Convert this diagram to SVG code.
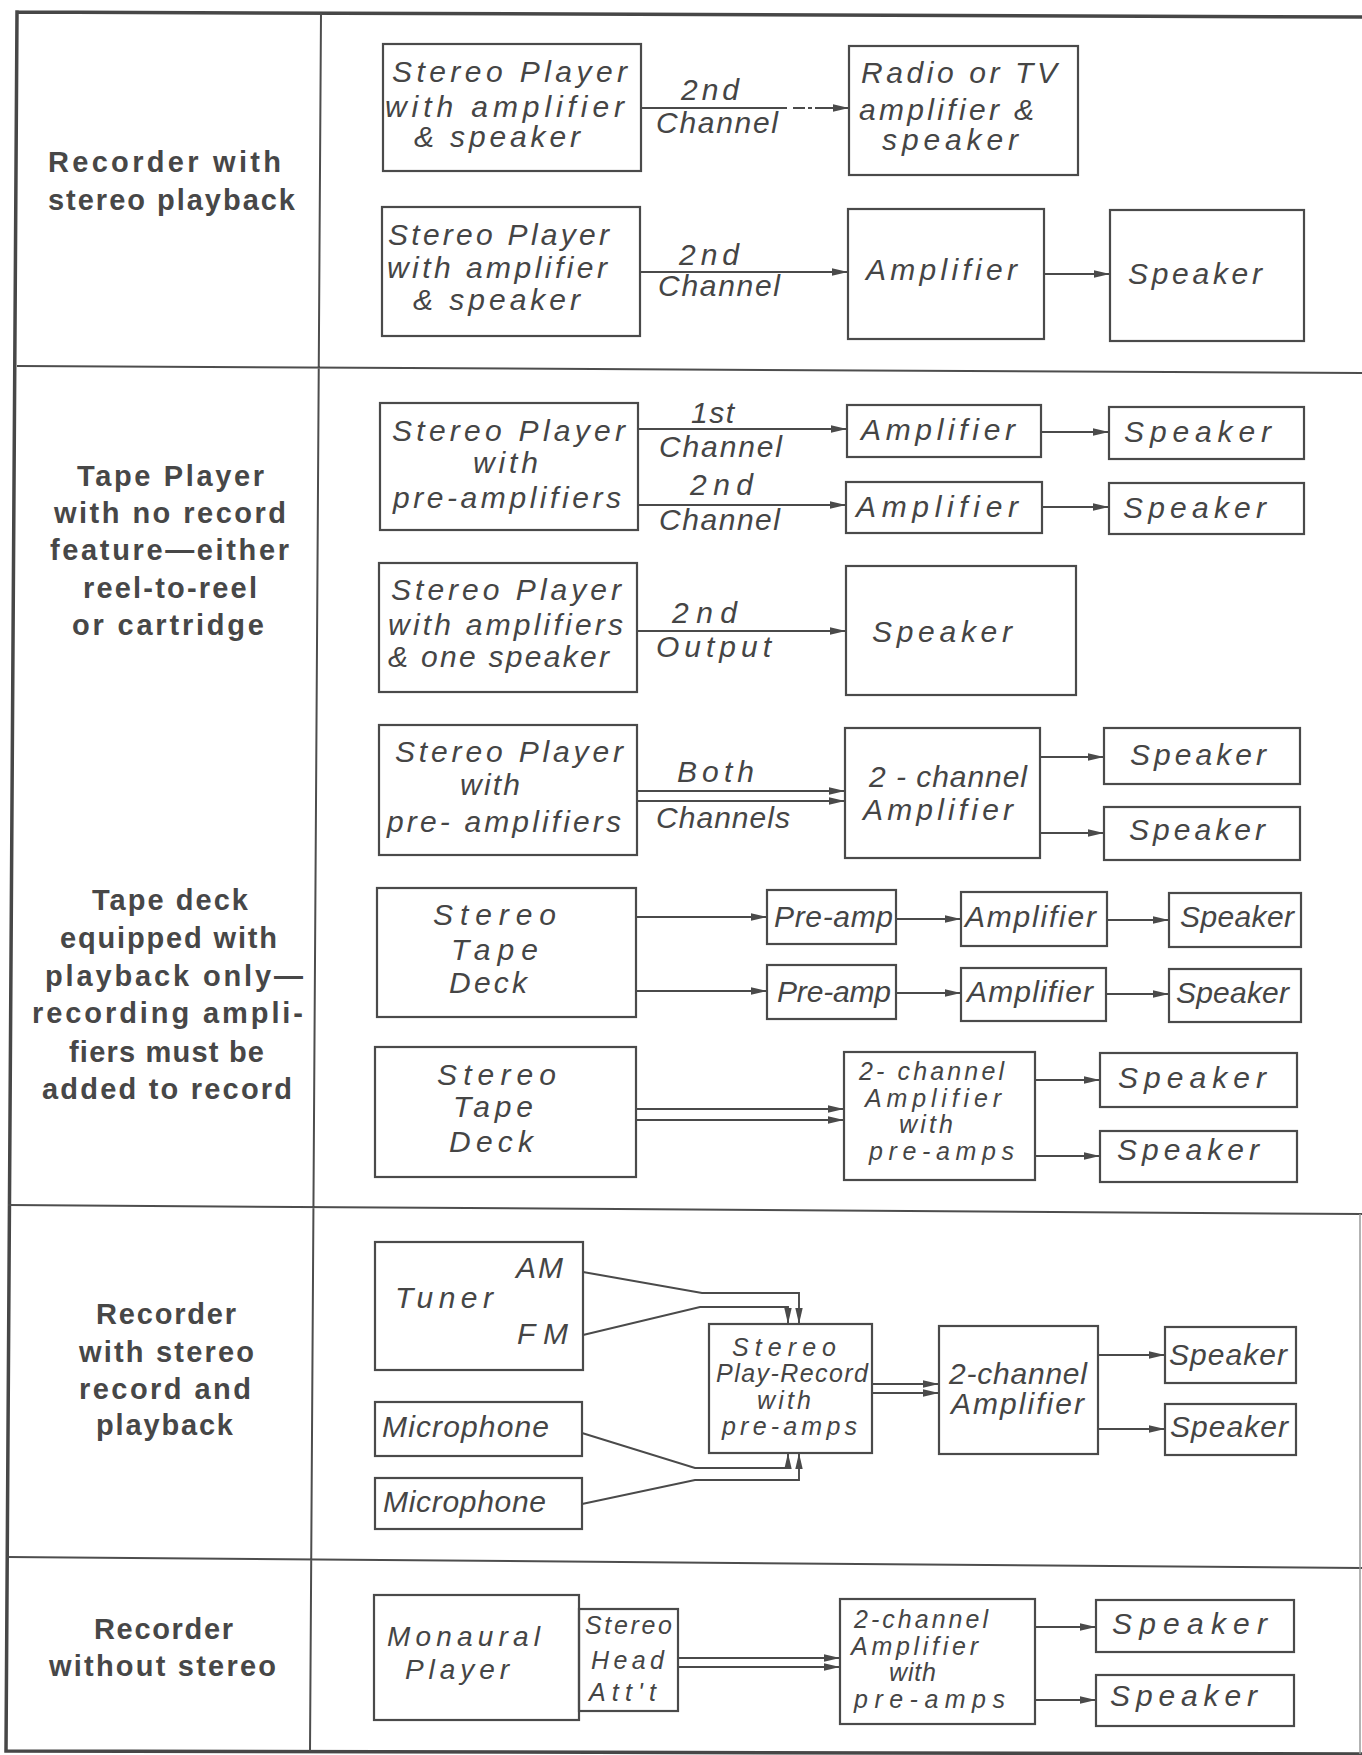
<svg xmlns="http://www.w3.org/2000/svg" width="1362" height="1755" viewBox="0 0 1362 1755">
<style>
.bg{fill:#ffffff}
.frame{stroke:#474747;stroke-width:3.5;fill:none;stroke-linecap:square}
.div{stroke:#4d4d4d;stroke-width:2;fill:none}
.box{fill:none;stroke:#4a4a4a;stroke-width:2.2}
.wire{stroke:#4a4a4a;stroke-width:1.9;fill:none}
.lbl{font-family:"Liberation Sans",Arial,sans-serif;font-weight:bold;font-size:29px;fill:#474747}
.h{font-family:"Liberation Sans",Arial,sans-serif;font-style:italic;font-size:30px;fill:#454545}
.s{font-size:25px}
.m{font-size:28px}
</style>
<defs>
<marker id="ah" markerWidth="16" markerHeight="9" refX="16" refY="4.5" orient="auto" markerUnits="userSpaceOnUse">
<path d="M0,0.8 L16,4.5 L0,8.2 Z" fill="#4a4a4a"/>
</marker>
</defs>
<rect class="bg" x="0" y="0" width="1362" height="1755"/>

<g id="frame">
<path class="frame" d="M17,12 L1362,17 M17,12 L6,1751 M6,1751 L1362,1754"/>
<path class="div" d="M321,13 L310,1751 M17,366 L1362,373 M8,1205 L1362,1214 M7,1557 L1362,1568"/>
<path d="M1360,1214 L1360,1754" stroke="#9a9a9a" stroke-width="1.5" fill="none"/>
</g>

<g id="labels">
<g id="label-row1">
<text class="lbl" x="48" y="172" textLength="233">Recorder with</text>
<text class="lbl" x="48" y="210" textLength="247">stereo playback</text>
</g>
<g id="label-row2">
<text class="lbl" x="77" y="486" textLength="187">Tape Player</text>
<text class="lbl" x="54" y="523" textLength="232">with no record</text>
<text class="lbl" x="50" y="560" textLength="239">feature—either</text>
<text class="lbl" x="83" y="598" textLength="174">reel-to-reel</text>
<text class="lbl" x="72" y="635" textLength="192">or cartridge</text>
</g>
<g id="label-row2b">
<text class="lbl" x="92" y="910" textLength="156">Tape deck</text>
<text class="lbl" x="60" y="948" textLength="217">equipped with</text>
<text class="lbl" x="45" y="986" textLength="258">playback only—</text>
<text class="lbl" x="32" y="1023" textLength="271">recording ampli-</text>
<text class="lbl" x="69" y="1062" textLength="195">fiers must be</text>
<text class="lbl" x="42" y="1099" textLength="250">added to record</text>
</g>
<g id="label-row3">
<text class="lbl" x="96" y="1324" textLength="140">Recorder</text>
<text class="lbl" x="79" y="1362" textLength="175">with stereo</text>
<text class="lbl" x="79" y="1399" textLength="172">record and</text>
<text class="lbl" x="96" y="1435" textLength="137">playback</text>
</g>
<g id="label-row4">
<text class="lbl" x="94" y="1639" textLength="139">Recorder</text>
<text class="lbl" x="49" y="1676" textLength="227">without stereo</text>
</g>
</g>

<g id="connectors">
<path class="wire" d="M641,108 L787,108 M793,108 L805,108 M808,108 L812,108"/>
<path class="wire" d="M815,108 L849,108" marker-end="url(#ah)"/>
<text class="h" x="681" y="100" textLength="58">2nd</text>
<text class="h" x="656" y="133" textLength="122">Channel</text>

<path class="wire" d="M640,272 L848,272" marker-end="url(#ah)"/>
<text class="h" x="679" y="265" textLength="60">2nd</text>
<text class="h" x="658" y="296" textLength="122">Channel</text>
<path class="wire" d="M1044,274 L1110,274" marker-end="url(#ah)"/>

<path class="wire" d="M638,429 L847,429" marker-end="url(#ah)"/>
<text class="h" x="691" y="423" textLength="43">1st</text>
<text class="h" x="659" y="457" textLength="123">Channel</text>
<path class="wire" d="M638,505 L846,505" marker-end="url(#ah)"/>
<text class="h" x="690" y="495" textLength="63">2nd</text>
<text class="h" x="659" y="530" textLength="121">Channel</text>
<path class="wire" d="M1041,432 L1109,432" marker-end="url(#ah)"/>
<path class="wire" d="M1042,507 L1109,507" marker-end="url(#ah)"/>

<path class="wire" d="M637,631 L846,631" marker-end="url(#ah)"/>
<text class="h" x="672" y="623" textLength="65">2nd</text>
<text class="h" x="656" y="657" textLength="115">Output</text>

<path class="wire" d="M637,791 L845,791" marker-end="url(#ah)"/>
<path class="wire" d="M637,801 L845,801" marker-end="url(#ah)"/>
<text class="h" x="677" y="782" textLength="77">Both</text>
<text class="h" x="656" y="828" textLength="134">Channels</text>
<path class="wire" d="M1040,757 L1104,757" marker-end="url(#ah)"/>
<path class="wire" d="M1040,833 L1104,833" marker-end="url(#ah)"/>

<path class="wire" d="M636,917 L767,917" marker-end="url(#ah)"/>
<path class="wire" d="M636,991 L767,991" marker-end="url(#ah)"/>
<path class="wire" d="M896,919 L961,919" marker-end="url(#ah)"/>
<path class="wire" d="M896,993 L961,993" marker-end="url(#ah)"/>
<path class="wire" d="M1107,920 L1169,920" marker-end="url(#ah)"/>
<path class="wire" d="M1106,994 L1169,994" marker-end="url(#ah)"/>

<path class="wire" d="M636,1109 L844,1109" marker-end="url(#ah)"/>
<path class="wire" d="M636,1120 L844,1120" marker-end="url(#ah)"/>
<path class="wire" d="M1035,1080 L1100,1080" marker-end="url(#ah)"/>
<path class="wire" d="M1035,1156 L1100,1156" marker-end="url(#ah)"/>

<path class="wire" d="M583,1272 L702,1293 L799,1293 L799,1324" marker-end="url(#ah)"/>
<path class="wire" d="M583,1335 L700,1307 L788,1307 L788,1324" marker-end="url(#ah)"/>
<path class="wire" d="M582,1433 L695,1468 L788,1468 L788,1453" marker-end="url(#ah)"/>
<path class="wire" d="M582,1504 L695,1480 L799,1480 L799,1453" marker-end="url(#ah)"/>
<path class="wire" d="M872,1384 L939,1384" marker-end="url(#ah)"/>
<path class="wire" d="M872,1393 L939,1393" marker-end="url(#ah)"/>
<path class="wire" d="M1098,1355 L1165,1355" marker-end="url(#ah)"/>
<path class="wire" d="M1098,1429 L1165,1429" marker-end="url(#ah)"/>

<path class="wire" d="M678,1658 L840,1658" marker-end="url(#ah)"/>
<path class="wire" d="M678,1667 L840,1667" marker-end="url(#ah)"/>
<path class="wire" d="M1035,1627 L1096,1627" marker-end="url(#ah)"/>
<path class="wire" d="M1035,1700 L1096,1700" marker-end="url(#ah)"/>
</g>

<g id="n-a1"><rect class="box" x="383" y="44" width="258" height="127"/>
<text class="h" x="392" y="82" textLength="235">Stereo Player</text>
<text class="h" x="385" y="117" textLength="239">with amplifier</text>
<text class="h" x="414" y="147" textLength="166">&amp; speaker</text></g>
<g id="n-a2"><rect class="box" x="849" y="46" width="229" height="129"/>
<text class="h" x="861" y="83" textLength="196">Radio or TV</text>
<text class="h" x="859" y="120" textLength="175">amplifier &amp;</text>
<text class="h" x="882" y="150" textLength="136">speaker</text></g>

<g id="n-b1"><rect class="box" x="382" y="207" width="258" height="129"/>
<text class="h" x="388" y="245" textLength="221">Stereo Player</text>
<text class="h" x="387" y="278" textLength="220">with amplifier</text>
<text class="h" x="413" y="310" textLength="167">&amp; speaker</text></g>
<g id="n-b2"><rect class="box" x="848" y="209" width="196" height="130"/>
<text class="h" x="866" y="280" textLength="151">Amplifier</text></g>
<g id="n-b3"><rect class="box" x="1110" y="210" width="194" height="131"/>
<text class="h" x="1128" y="284" textLength="134">Speaker</text></g>

<g id="n-c1"><rect class="box" x="380" y="403" width="258" height="127"/>
<text class="h" x="392" y="441" textLength="233">Stereo Player</text>
<text class="h" x="473" y="473" textLength="65">with</text>
<text class="h" x="393" y="508" textLength="228">pre-amplifiers</text></g>
<g id="n-c2a"><rect class="box" x="847" y="405" width="194" height="52"/>
<text class="h" x="861" y="440" textLength="154">Amplifier</text></g>
<g id="n-c2b"><rect class="box" x="846" y="482" width="196" height="51"/>
<text class="h" x="856" y="517" textLength="162">Amplifier</text></g>
<g id="n-c3a"><rect class="box" x="1109" y="407" width="195" height="52"/>
<text class="h" x="1124" y="442" textLength="147">Speaker</text></g>
<g id="n-c3b"><rect class="box" x="1109" y="483" width="195" height="51"/>
<text class="h" x="1123" y="518" textLength="143">Speaker</text></g>

<g id="n-d1"><rect class="box" x="379" y="563" width="258" height="129"/>
<text class="h" x="391" y="600" textLength="230">Stereo Player</text>
<text class="h" x="388" y="635" textLength="235">with amplifiers</text>
<text class="h" x="388" y="667" textLength="221">&amp; one speaker</text></g>
<g id="n-d2"><rect class="box" x="846" y="566" width="230" height="129"/>
<text class="h" x="872" y="642" textLength="140">Speaker</text></g>

<g id="n-e1"><rect class="box" x="379" y="725" width="258" height="130"/>
<text class="h" x="395" y="762" textLength="228">Stereo Player</text>
<text class="h" x="460" y="795" textLength="60">with</text>
<text class="h" x="387" y="832" textLength="234">pre- amplifiers</text></g>
<g id="n-e2"><rect class="box" x="845" y="728" width="195" height="130"/>
<text class="h" x="869" y="787" textLength="158">2 - channel</text>
<text class="h" x="863" y="820" textLength="150">Amplifier</text></g>
<g id="n-e3a"><rect class="box" x="1104" y="728" width="196" height="56"/>
<text class="h" x="1130" y="765" textLength="136">Speaker</text></g>
<g id="n-e3b"><rect class="box" x="1104" y="807" width="196" height="53"/>
<text class="h" x="1129" y="840" textLength="136">Speaker</text></g>

<g id="n-f1"><rect class="box" x="377" y="888" width="259" height="129"/>
<text class="h" x="433" y="925" textLength="123">Stereo</text>
<text class="h" x="451" y="960" textLength="87">Tape</text>
<text class="h" x="449" y="993" textLength="78">Deck</text></g>
<g id="n-f2a"><rect class="box" x="767" y="890" width="129" height="54"/>
<text class="h" x="774" y="927" textLength="119">Pre-amp</text></g>
<g id="n-f2b"><rect class="box" x="767" y="965" width="129" height="54"/>
<text class="h" x="777" y="1002" textLength="114">Pre-amp</text></g>
<g id="n-f3a"><rect class="box" x="961" y="892" width="146" height="54"/>
<text class="h" x="965" y="927" textLength="131">Amplifier</text></g>
<g id="n-f3b"><rect class="box" x="961" y="968" width="145" height="53"/>
<text class="h" x="967" y="1002" textLength="126">Amplifier</text></g>
<g id="n-f4a"><rect class="box" x="1169" y="893" width="132" height="54"/>
<text class="h" x="1180" y="927" textLength="114">Speaker</text></g>
<g id="n-f4b"><rect class="box" x="1169" y="969" width="132" height="53"/>
<text class="h" x="1176" y="1003" textLength="113">Speaker</text></g>

<g id="n-g1"><rect class="box" x="375" y="1047" width="261" height="130"/>
<text class="h" x="437" y="1085" textLength="119">Stereo</text>
<text class="h" x="453" y="1117" textLength="80">Tape</text>
<text class="h" x="449" y="1152" textLength="84">Deck</text></g>
<g id="n-g2"><rect class="box" x="844" y="1052" width="191" height="128"/>
<text class="h s" x="859" y="1080" textLength="145">2- channel</text>
<text class="h s" x="865" y="1107" textLength="136">Amplifier</text>
<text class="h s" x="899" y="1133" textLength="54">with</text>
<text class="h s" x="869" y="1160" textLength="145">pre-amps</text></g>
<g id="n-g3a"><rect class="box" x="1100" y="1053" width="197" height="54"/>
<text class="h" x="1118" y="1088" textLength="148">Speaker</text></g>
<g id="n-g3b"><rect class="box" x="1100" y="1131" width="197" height="51"/>
<text class="h" x="1117" y="1160" textLength="142">Speaker</text></g>

<g id="n-tuner"><rect class="box" x="375" y="1242" width="208" height="128"/>
<text class="h" x="516" y="1278" textLength="47">AM</text>
<text class="h" x="395" y="1308" textLength="98">Tuner</text>
<text class="h" x="517" y="1344" textLength="51">FM</text></g>
<g id="n-mic1"><rect class="box" x="375" y="1402" width="207" height="54"/>
<text class="h" x="382" y="1437" textLength="167">Microphone</text></g>
<g id="n-mic2"><rect class="box" x="375" y="1478" width="207" height="51"/>
<text class="h" x="383" y="1512" textLength="163">Microphone</text></g>
<g id="n-playrec"><rect class="box" x="709" y="1324" width="163" height="129"/>
<text class="h s" x="732" y="1356" textLength="104">Stereo</text>
<text class="h s" x="716" y="1382" textLength="152">Play-Record</text>
<text class="h s" x="757" y="1409" textLength="54">with</text>
<text class="h s" x="722" y="1435" textLength="135">pre-amps</text></g>
<g id="n-h2ch"><rect class="box" x="939" y="1326" width="159" height="128"/>
<text class="h" x="949" y="1384" textLength="138">2-channel</text>
<text class="h" x="951" y="1414" textLength="133">Amplifier</text></g>
<g id="n-hs1"><rect class="box" x="1165" y="1327" width="131" height="56"/>
<text class="h" x="1169" y="1365" textLength="118">Speaker</text></g>
<g id="n-hs2"><rect class="box" x="1165" y="1404" width="131" height="51"/>
<text class="h" x="1170" y="1437" textLength="118">Speaker</text></g>

<g id="n-mono"><rect class="box" x="374" y="1595" width="205" height="125"/>
<text class="h m" x="387" y="1646" textLength="153">Monaural</text>
<text class="h m" x="405" y="1679" textLength="104">Player</text></g>
<g id="n-head"><rect class="box" x="579" y="1609" width="99" height="102"/>
<text class="h s" x="585" y="1634" textLength="87">Stereo</text>
<text class="h s" x="591" y="1669" textLength="73">Head</text>
<text class="h s" x="589" y="1701" textLength="67">Att't</text></g>
<g id="n-j2ch"><rect class="box" x="840" y="1599" width="195" height="125"/>
<text class="h s" x="854" y="1628" textLength="134">2-channel</text>
<text class="h s" x="851" y="1655" textLength="127">Amplifier</text>
<text class="h s" x="889" y="1681" textLength="47">with</text>
<text class="h s" x="854" y="1708" textLength="151">pre-amps</text></g>
<g id="n-js1"><rect class="box" x="1096" y="1600" width="198" height="52"/>
<text class="h" x="1112" y="1634" textLength="155">Speaker</text></g>
<g id="n-js2"><rect class="box" x="1096" y="1675" width="198" height="51"/>
<text class="h" x="1110" y="1706" textLength="147">Speaker</text></g>
</svg>
